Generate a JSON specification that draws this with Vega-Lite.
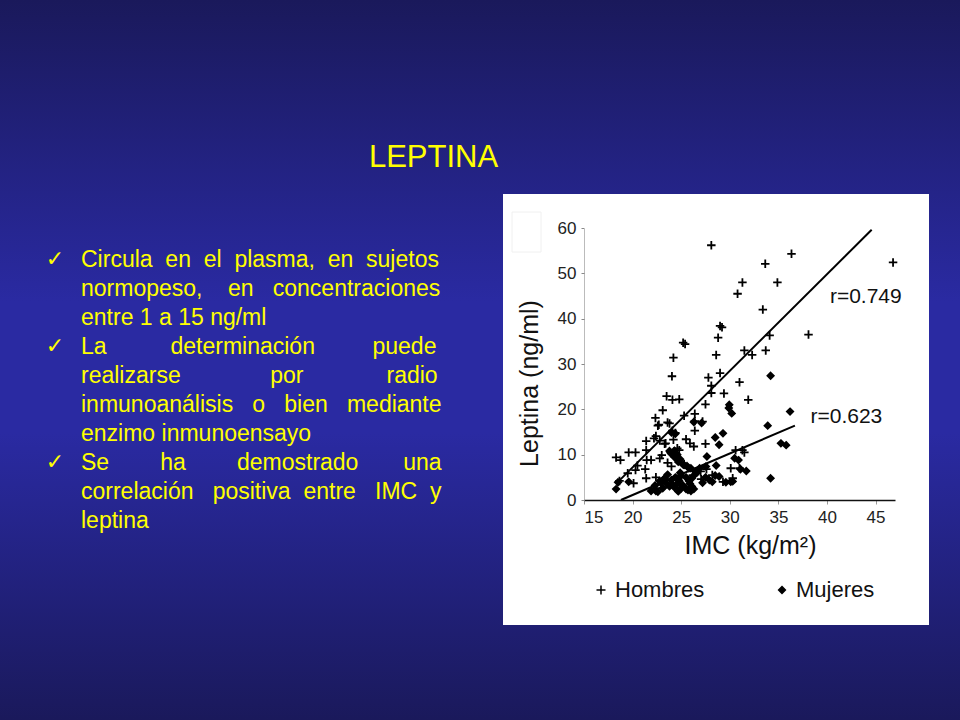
{
  "$schema": "https://vega.github.io/schema/vega-lite/v6.json",
  "width": 311,
  "height": 272,
  "autosize": {"type": "none"},
  "padding": {"left": 584, "top": 228, "right": 65, "bottom": 220},
  "background": "#22227a",
  "config": {"view": {"stroke": null}, "font": "Liberation Sans"},
  "datasets": {
    "one": [{}],
    "pts": [
      {"s":"Hombres","x":28.1,"y":56.2},{"s":"Hombres","x":36.35,"y":54.3},{"s":"Hombres","x":46.8,"y":52.4},{"s":"Hombres","x":33.65,"y":52.1},
      {"s":"Hombres","x":31.3,"y":48.0},{"s":"Hombres","x":34.9,"y":48.0},{"s":"Hombres","x":30.8,"y":45.5},{"s":"Hombres","x":33.4,"y":42.0},
      {"s":"Hombres","x":38.1,"y":36.5},{"s":"Hombres","x":29.0,"y":38.4},{"s":"Hombres","x":29.2,"y":38.1},{"s":"Hombres","x":28.8,"y":35.8},
      {"s":"Hombres","x":34.1,"y":36.3},{"s":"Hombres","x":25.2,"y":34.7},{"s":"Hombres","x":25.4,"y":34.4},{"s":"Hombres","x":24.2,"y":31.4},
      {"s":"Hombres","x":28.6,"y":32.0},{"s":"Hombres","x":31.5,"y":33.0},{"s":"Hombres","x":32.3,"y":32.0},{"s":"Hombres","x":33.7,"y":33.0},
      {"s":"Hombres","x":24.05,"y":27.3},{"s":"Hombres","x":27.8,"y":27.0},{"s":"Hombres","x":29.0,"y":28.0},{"s":"Hombres","x":28.1,"y":25.2},
      {"s":"Hombres","x":31.0,"y":26.0},{"s":"Hombres","x":23.5,"y":22.9},{"s":"Hombres","x":24.1,"y":22.1},{"s":"Hombres","x":24.8,"y":22.2},
      {"s":"Hombres","x":29.4,"y":23.5},{"s":"Hombres","x":28.1,"y":23.6},{"s":"Hombres","x":31.9,"y":22.1},{"s":"Hombres","x":27.5,"y":21.1},
      {"s":"Hombres","x":23.1,"y":19.8},{"s":"Hombres","x":22.35,"y":18.1},{"s":"Hombres","x":23.6,"y":17.1},{"s":"Hombres","x":22.6,"y":16.4},
      {"s":"Hombres","x":26.4,"y":19.0},{"s":"Hombres","x":26.4,"y":17.4},{"s":"Hombres","x":27.2,"y":17.3},{"s":"Hombres","x":26.4,"y":15.3},
      {"s":"Hombres","x":25.3,"y":18.6},{"s":"Hombres","x":24.1,"y":15.3},{"s":"Hombres","x":24.4,"y":14.8},{"s":"Hombres","x":21.4,"y":13.0},
      {"s":"Hombres","x":22.4,"y":14.1},{"s":"Hombres","x":22.8,"y":13.1},{"s":"Hombres","x":23.3,"y":12.4},{"s":"Hombres","x":24.2,"y":13.3},
      {"s":"Hombres","x":25.5,"y":13.4},{"s":"Hombres","x":24.6,"y":11.4},{"s":"Hombres","x":26.3,"y":11.8},{"s":"Hombres","x":27.5,"y":12.4},
      {"s":"Hombres","x":18.3,"y":9.4},{"s":"Hombres","x":18.75,"y":8.8},{"s":"Hombres","x":19.6,"y":10.5},{"s":"Hombres","x":20.3,"y":10.5},
      {"s":"Hombres","x":21.4,"y":11.0},{"s":"Hombres","x":21.45,"y":8.8},{"s":"Hombres","x":22.8,"y":9.2},{"s":"Hombres","x":23.6,"y":8.2},
      {"s":"Hombres","x":23.0,"y":9.9},{"s":"Hombres","x":24.8,"y":11.0},{"s":"Hombres","x":21.3,"y":6.8},{"s":"Hombres","x":21.4,"y":4.8},
      {"s":"Hombres","x":20.3,"y":6.6},{"s":"Hombres","x":22.4,"y":5.0},{"s":"Hombres","x":18.65,"y":4.2},{"s":"Hombres","x":20.1,"y":3.7},
      {"s":"Hombres","x":24.0,"y":7.4},{"s":"Hombres","x":24.7,"y":4.4},{"s":"Hombres","x":27.05,"y":4.6},{"s":"Hombres","x":27.6,"y":6.8},
      {"s":"Hombres","x":30.1,"y":7.0},{"s":"Hombres","x":29.3,"y":4.0},{"s":"Hombres","x":31.3,"y":11.0},{"s":"Hombres","x":31.5,"y":10.5},
      {"s":"Hombres","x":30.6,"y":11.0},{"s":"Hombres","x":30.3,"y":4.8},{"s":"Hombres","x":26.2,"y":5.5},{"s":"Hombres","x":28.2,"y":5.5},
      {"s":"Hombres","x":19.5,"y":5.9},{"s":"Hombres","x":22.4,"y":2.6},{"s":"Hombres","x":25.3,"y":7.9},{"s":"Hombres","x":27.0,"y":6.3},
      {"s":"Hombres","x":31.0,"y":7.0},{"s":"Hombres","x":22.7,"y":16.6},{"s":"Hombres","x":23.8,"y":16.9},{"s":"Hombres","x":21.9,"y":8.8},
      {"s":"Hombres","x":20.5,"y":7.6},{"s":"Hombres","x":25.9,"y":12.5},{"s":"Hombres","x":23.4,"y":12.5},{"s":"Hombres","x":22.2,"y":13.6},
      {"s":"Mujeres","x":34.2,"y":27.4},{"s":"Mujeres","x":36.2,"y":19.5},{"s":"Mujeres","x":33.9,"y":16.4},{"s":"Mujeres","x":29.95,"y":21.0},
      {"s":"Mujeres","x":30.2,"y":19.1},{"s":"Mujeres","x":29.9,"y":20.3},{"s":"Mujeres","x":35.26,"y":12.5},{"s":"Mujeres","x":35.8,"y":12.1},
      {"s":"Mujeres","x":34.2,"y":4.8},{"s":"Mujeres","x":29.3,"y":14.7},{"s":"Mujeres","x":28.5,"y":13.8},{"s":"Mujeres","x":28.9,"y":12.2},
      {"s":"Mujeres","x":31.7,"y":6.4},{"s":"Mujeres","x":31.1,"y":6.8},{"s":"Mujeres","x":30.5,"y":9.2},{"s":"Mujeres","x":30.9,"y":8.8},
      {"s":"Mujeres","x":27.65,"y":9.6},{"s":"Mujeres","x":27.55,"y":7.4},{"s":"Mujeres","x":28.6,"y":7.6},{"s":"Mujeres","x":28.9,"y":5.2},
      {"s":"Mujeres","x":26.3,"y":17.2},{"s":"Mujeres","x":27.1,"y":17.0},{"s":"Mujeres","x":29.6,"y":3.9},{"s":"Mujeres","x":30.1,"y":4.0},
      {"s":"Mujeres","x":30.3,"y":4.1},{"s":"Mujeres","x":28.2,"y":4.0},{"s":"Mujeres","x":18.3,"y":2.4},{"s":"Mujeres","x":18.5,"y":3.9},
      {"s":"Mujeres","x":19.6,"y":4.0},{"s":"Mujeres","x":21.9,"y":2.0},{"s":"Mujeres","x":22.6,"y":1.8},{"s":"Mujeres","x":23.1,"y":2.6},
      {"s":"Mujeres","x":22.3,"y":3.2},{"s":"Mujeres","x":22.8,"y":4.2},{"s":"Mujeres","x":23.2,"y":4.5},{"s":"Mujeres","x":23.5,"y":3.6},
      {"s":"Mujeres","x":23.8,"y":3.0},{"s":"Mujeres","x":24.0,"y":4.4},{"s":"Mujeres","x":24.2,"y":3.2},{"s":"Mujeres","x":24.4,"y":5.0},
      {"s":"Mujeres","x":24.6,"y":3.6},{"s":"Mujeres","x":24.8,"y":4.2},{"s":"Mujeres","x":25.0,"y":5.4},{"s":"Mujeres","x":25.2,"y":3.2},
      {"s":"Mujeres","x":25.5,"y":2.4},{"s":"Mujeres","x":25.7,"y":2.2},{"s":"Mujeres","x":25.9,"y":3.6},{"s":"Mujeres","x":26.1,"y":4.8},
      {"s":"Mujeres","x":26.3,"y":2.4},{"s":"Mujeres","x":26.4,"y":5.6},{"s":"Mujeres","x":26.6,"y":6.0},{"s":"Mujeres","x":26.0,"y":7.0},
      {"s":"Mujeres","x":25.6,"y":7.5},{"s":"Mujeres","x":25.2,"y":7.8},{"s":"Mujeres","x":24.7,"y":8.4},{"s":"Mujeres","x":24.3,"y":9.5},
      {"s":"Mujeres","x":24.0,"y":10.2},{"s":"Mujeres","x":24.3,"y":10.9},{"s":"Mujeres","x":24.6,"y":10.0},{"s":"Mujeres","x":24.9,"y":9.0},
      {"s":"Mujeres","x":24.0,"y":14.9},{"s":"Mujeres","x":24.4,"y":14.6},{"s":"Mujeres","x":23.9,"y":10.4},{"s":"Mujeres","x":24.5,"y":9.2},
      {"s":"Mujeres","x":25.3,"y":7.7},{"s":"Mujeres","x":25.8,"y":7.0},{"s":"Mujeres","x":26.5,"y":6.3},{"s":"Mujeres","x":26.9,"y":7.0},
      {"s":"Mujeres","x":27.5,"y":5.0},{"s":"Mujeres","x":27.9,"y":4.4},{"s":"Mujeres","x":28.5,"y":5.4},{"s":"Mujeres","x":26.1,"y":3.0},
      {"s":"Mujeres","x":25.0,"y":2.6},{"s":"Mujeres","x":24.3,"y":2.8},{"s":"Mujeres","x":23.3,"y":4.8},{"s":"Mujeres","x":22.4,"y":2.0},
      {"s":"Mujeres","x":23.6,"y":5.6},{"s":"Mujeres","x":24.9,"y":6.0},{"s":"Mujeres","x":25.5,"y":5.0},{"s":"Mujeres","x":26.0,"y":2.0},
      {"s":"Mujeres","x":25.8,"y":4.2},{"s":"Mujeres","x":22.9,"y":3.8},{"s":"Mujeres","x":24.7,"y":1.9},{"s":"Mujeres","x":27.2,"y":3.8},
      {"s":"Mujeres","x":23.8,"y":10.8}
    ],
    "fit": [
      {"s":"Hombres","x":18.5,"y":4.0},{"s":"Hombres","x":44.6,"y":59.6},
      {"s":"Mujeres","x":18.8,"y":0.0},{"s":"Mujeres","x":36.7,"y":16.4}
    ],
    "rlab": [
      {"s":"Hombres","r":"r=0.749","x":40.3,"y":44.7},
      {"s":"Mujeres","r":"r=0.623","x":38.3,"y":18.4}
    ]
  },
  "layer": [
    {
      "data": {"name": "one"},
      "mark": {"type": "rect", "x": -584, "x2": 376, "y": -228, "y2": 492,
        "fill": {"gradient": "linear", "x1": 0, "y1": 0, "x2": 0, "y2": 1,
          "stops": [{"offset": 0, "color": "#1a195b"}, {"offset": 0.42, "color": "#2a2aa2"}, {"offset": 0.6, "color": "#2a2aa2"}, {"offset": 1, "color": "#1a195b"}]}},
      "encoding": {}
    },
    {
      "data": {"name": "one"},
      "mark": {"type": "rule", "x": -584, "x2": 376, "y": -133, "color": "#c41e3a", "strokeWidth": 1.5},
      "encoding": {}
    },
    {
      "data": {"name": "one"},
      "mark": {"type": "rect", "x": -81, "x2": 345, "y": -34, "y2": 397, "fill": "#ffffff"},
      "encoding": {}
    },
    {
      "data": {"name": "one"},
      "mark": {"type": "rect", "x": -72, "x2": -43, "y": -16, "y2": 24, "fill": "#ffffff", "stroke": "#f0f0f0", "strokeWidth": 1},
      "encoding": {}
    },
    {
      "data": {"name": "one"},
      "mark": {"type": "text", "text": "LEPTINA", "x": -150.5, "y": -61, "align": "center", "baseline": "alphabetic",
        "fontSize": 31, "font": "Liberation Sans", "color": "#ffff00"},
      "encoding": {}
    },
    {
      "data": {"name": "one"},
      "mark": {"type": "text", "x": -503, "y": 39, "align": "left", "baseline": "alphabetic", "lineHeight": 29,
        "fontSize": 23, "font": "Liberation Sans", "color": "#ffff00",
        "text": [
          "Circula\u00a0\u00a0en\u00a0\u00a0el\u00a0\u00a0plasma,\u00a0\u00a0en\u00a0\u00a0sujetos",
          "normopeso,\u00a0\u00a0\u00a0\u00a0en\u00a0\u00a0\u00a0concentraciones",
          "entre 1 a 15 ng/ml",
          "La\u00a0\u00a0\u00a0\u00a0\u00a0\u00a0\u00a0\u00a0\u00a0\u00a0determinación\u00a0\u00a0\u00a0\u00a0\u00a0\u00a0\u00a0\u00a0\u00a0puede",
          "realizarse\u00a0\u00a0\u00a0\u00a0\u00a0\u00a0\u00a0\u00a0\u00a0\u00a0\u00a0\u00a0\u00a0\u00a0por\u00a0\u00a0\u00a0\u00a0\u00a0\u00a0\u00a0\u00a0\u00a0\u00a0\u00a0\u00a0\u00a0radio",
          "inmunoanálisis\u00a0\u00a0\u00a0o\u00a0\u00a0\u00a0bien\u00a0\u00a0\u00a0mediante",
          "enzimo inmunoensayo",
          "Se\u00a0\u00a0\u00a0\u00a0\u00a0\u00a0\u00a0\u00a0ha\u00a0\u00a0\u00a0\u00a0\u00a0\u00a0\u00a0\u00a0demostrado\u00a0\u00a0\u00a0\u00a0\u00a0\u00a0\u00a0una",
          "correlación\u00a0\u00a0\u00a0positiva\u00a0\u00a0entre\u00a0\u00a0\u00a0IMC\u00a0\u00a0y",
          "leptina"
        ]},
      "encoding": {}
    },
    {
      "data": {"name": "one"},
      "mark": {"type": "text", "text": "✓", "x": -529, "y": 38, "align": "center", "baseline": "alphabetic",
        "fontSize": 22, "font": "DejaVu Sans", "color": "#ffff00"},
      "encoding": {}
    },
    {
      "data": {"name": "one"},
      "mark": {"type": "text", "text": "✓", "x": -529, "y": 125, "align": "center", "baseline": "alphabetic",
        "fontSize": 22, "font": "DejaVu Sans", "color": "#ffff00"},
      "encoding": {}
    },
    {
      "data": {"name": "one"},
      "mark": {"type": "text", "text": "✓", "x": -529, "y": 241, "align": "center", "baseline": "alphabetic",
        "fontSize": 22, "font": "DejaVu Sans", "color": "#ffff00"},
      "encoding": {}
    },
    {
      "data": {"name": "pts"},
      "mark": {"type": "point", "filled": true, "fill": "#000000", "stroke": "#000000", "strokeWidth": 1.8, "size": 72, "opacity": 1},
      "encoding": {
        "x": {"field": "x", "type": "quantitative", "title": "IMC (kg/m²)",
          "scale": {"domain": [15, 47], "nice": false, "zero": false},
          "axis": {"zindex": 2, "values": [15, 20, 25, 30, 35, 40, 45], "grid": false, "labelFontSize": 17, "labelColor": "#222222",
            "labelFont": "Liberation Sans", "labelPadding": 5, "tickSize": 4, "tickColor": "#999999",
            "domainColor": "#111111", "domainWidth": 1.5,
            "titleFontSize": 25, "titleFontWeight": "normal", "titleColor": "#111111", "titleFont": "Liberation Sans",
            "titleX": 166, "titleY": 45, "titleBaseline": "middle", "titleAlign": "center"}},
        "y": {"field": "y", "type": "quantitative", "title": "Leptina (ng/ml)",
          "scale": {"domain": [0, 60], "nice": false, "zero": true},
          "axis": {"zindex": 2, "values": [0, 10, 20, 30, 40, 50, 60], "grid": false, "labelFontSize": 17, "labelColor": "#222222",
            "labelFont": "Liberation Sans", "labelPadding": 5, "tickSize": 3, "tickColor": "#888888",
            "domainColor": "#777777", "domainDash": [1, 1],
            "titleFontSize": 25, "titleFontWeight": "normal", "titleColor": "#111111", "titleFont": "Liberation Sans",
            "titleX": -55, "titleY": 155, "titleBaseline": "middle", "titleAlign": "center", "titleAngle": 270}},
        "shape": {"field": "s", "type": "nominal",
          "scale": {"domain": ["Hombres", "Mujeres"], "range": ["M-1,0H1M0,-1V1", "M0,-0.75L0.75,0L0,0.75L-0.75,0Z"]},
          "legend": {"title": null, "orient": "none", "legendX": 6, "legendY": 351, "direction": "horizontal",
            "labelFontSize": 22, "labelColor": "#111111", "labelFont": "Liberation Sans", "symbolSize": 81,
            "labelOffset": 3, "columnPadding": 66, "padding": 0,
            "encode": {"symbols": {"update": {"stroke": {"value": "#000000"}, "fill": {"value": "#000000"}, "strokeWidth": {"value": 1.6}, "opacity": {"value": 1}}}}}}
      }
    },
    {
      "data": {"name": "fit"},
      "mark": {"type": "line", "color": "#000000", "strokeWidth": 2},
      "encoding": {
        "x": {"field": "x", "type": "quantitative", "title": "IMC (kg/m²)"},
        "y": {"field": "y", "type": "quantitative", "title": "Leptina (ng/ml)"},
        "detail": {"field": "s", "type": "nominal"}
      }
    },
    {
      "data": {"name": "rlab"},
      "mark": {"type": "text", "align": "left", "baseline": "middle", "fontSize": 21, "font": "Liberation Sans", "color": "#111111"},
      "encoding": {
        "x": {"field": "x", "type": "quantitative", "title": "IMC (kg/m²)"},
        "y": {"field": "y", "type": "quantitative", "title": "Leptina (ng/ml)"},
        "text": {"field": "r", "type": "nominal"}
      }
    }
  ]
}
